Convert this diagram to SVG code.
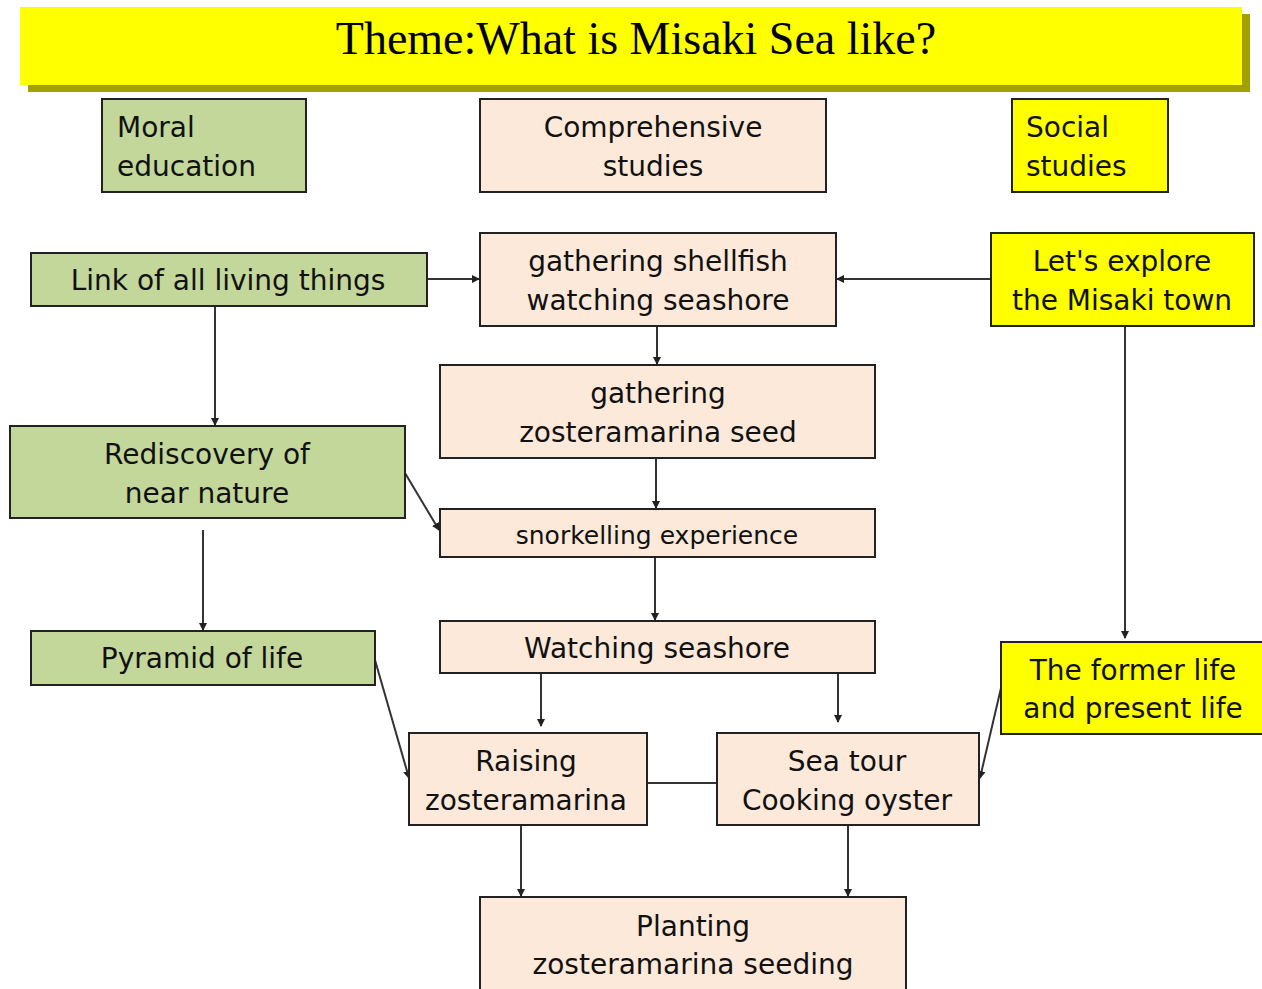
<svg xmlns="http://www.w3.org/2000/svg" width="1262" height="989" viewBox="0 0 1262 989">
<style>
.box{stroke:#222;stroke-width:2}
.g{fill:#c4d79b}.p{fill:#fde9d9}.y{fill:#ffff00}
.t{font-family:"DejaVu Sans",sans-serif;font-size:28px;fill:#111}
.s{font-size:25px}
.c{text-anchor:middle}
.ln{stroke:#333;stroke-width:2;fill:none}
</style>
<defs>
<marker id="ah" markerWidth="8" markerHeight="8" refX="7" refY="4" orient="auto" markerUnits="userSpaceOnUse">
<path d="M0,0 L8,4 L0,8 Z" fill="#222"/>
</marker>
</defs>
<rect width="1262" height="989" fill="#fff"/>
<g id="title">
<rect x="28" y="14" width="1222" height="78" fill="#a0a000"/>
<rect x="20" y="7" width="1222" height="78" fill="#ffff00"/>
<text x="636" y="54" text-anchor="middle" font-family="Liberation Serif,serif" font-size="46" fill="#000">Theme:What is Misaki Sea like?</text>
</g>
<g id="connectors">
<line class="ln" x1="427" y1="279" x2="479" y2="279" marker-end="url(#ah)"/>
<line class="ln" x1="991" y1="279" x2="837" y2="279" marker-end="url(#ah)"/>
<line class="ln" x1="657" y1="326" x2="657" y2="364" marker-end="url(#ah)"/>
<line class="ln" x1="215" y1="306" x2="215" y2="425" marker-end="url(#ah)"/>
<line class="ln" x1="656" y1="458" x2="656" y2="508" marker-end="url(#ah)"/>
<line class="ln" x1="405" y1="473" x2="439" y2="530" marker-end="url(#ah)"/>
<line class="ln" x1="655" y1="557" x2="655" y2="620" marker-end="url(#ah)"/>
<line class="ln" x1="203" y1="530" x2="203" y2="630" marker-end="url(#ah)"/>
<line class="ln" x1="1125" y1="326" x2="1125" y2="638" marker-end="url(#ah)"/>
<line class="ln" x1="541" y1="673" x2="541" y2="726" marker-end="url(#ah)"/>
<line class="ln" x1="838" y1="673" x2="838" y2="722" marker-end="url(#ah)"/>
<line class="ln" x1="375" y1="660" x2="409" y2="778" marker-end="url(#ah)"/>
<line class="ln" x1="1001" y1="688" x2="980" y2="778" marker-end="url(#ah)"/>
<line class="ln" x1="647" y1="783" x2="717" y2="783"/>
<line class="ln" x1="521" y1="825" x2="521" y2="896" marker-end="url(#ah)"/>
<line class="ln" x1="848" y1="825" x2="848" y2="896" marker-end="url(#ah)"/>
</g>
<g id="moral">
<rect class="box g" x="102" y="99" width="204" height="93"/>
<text class="t" x="117" y="137">Moral</text><text class="t" x="117" y="176">education</text>
</g>
<g id="comprehensive">
<rect class="box p" x="480" y="99" width="346" height="93"/>
<text class="t c" x="653" y="137">Comprehensive</text><text class="t c" x="653" y="176">studies</text>
</g>
<g id="social">
<rect class="box y" x="1012" y="99" width="156" height="93"/>
<text class="t" x="1026" y="137">Social</text><text class="t" x="1026" y="176">studies</text>
</g>
<g id="link">
<rect class="box g" x="31" y="253" width="396" height="53"/>
<text class="t c" x="228" y="290">Link of all living things</text>
</g>
<g id="gathering-shellfish">
<rect class="box p" x="480" y="233" width="356" height="93"/>
<text class="t c" x="658" y="271">gathering shellfish</text><text class="t c" x="658" y="310">watching seashore</text>
</g>
<g id="explore">
<rect class="box y" x="991" y="233" width="263" height="93"/>
<text class="t c" x="1122" y="271">Let's explore</text><text class="t c" x="1122" y="310">the Misaki town</text>
</g>
<g id="seed">
<rect class="box p" x="440" y="365" width="435" height="93"/>
<text class="t c" x="658" y="403">gathering</text><text class="t c" x="658" y="442">zosteramarina seed</text>
</g>
<g id="rediscovery">
<rect class="box g" x="10" y="426" width="395" height="92"/>
<text class="t c" x="207" y="464">Rediscovery of</text><text class="t c" x="207" y="503">near nature</text>
</g>
<g id="snorkelling">
<rect class="box p" x="440" y="509" width="435" height="48"/>
<text class="t c s" x="657" y="544">snorkelling experience</text>
</g>
<g id="watching">
<rect class="box p" x="440" y="621" width="435" height="52"/>
<text class="t c" x="657" y="658">Watching seashore</text>
</g>
<g id="pyramid">
<rect class="box g" x="31" y="631" width="344" height="54"/>
<text class="t c" x="202" y="668">Pyramid of life</text>
</g>
<g id="former">
<rect class="box y" x="1001" y="642" width="263" height="92"/>
<text class="t c" x="1133" y="680">The former life</text><text class="t c" x="1133" y="718">and present life</text>
</g>
<g id="raising">
<rect class="box p" x="409" y="733" width="238" height="92"/>
<text class="t c" x="526" y="771">Raising</text><text class="t c" x="526" y="810">zosteramarina</text>
</g>
<g id="seatour">
<rect class="box p" x="717" y="733" width="262" height="92"/>
<text class="t c" x="847" y="771">Sea tour</text><text class="t c" x="847" y="810">Cooking oyster</text>
</g>
<g id="planting">
<rect class="box p" x="480" y="897" width="426" height="100"/>
<text class="t c" x="693" y="936">Planting</text><text class="t c" x="693" y="974">zosteramarina seeding</text>
</g>
</svg>
